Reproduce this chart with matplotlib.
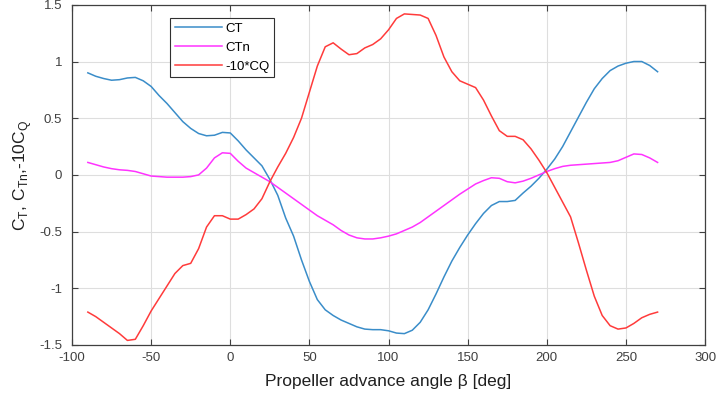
import matplotlib
matplotlib.use("Agg")
import matplotlib.pyplot as plt

# 推进角 β (deg)，每 5 度一个点
beta = list(range(-90, 271, 5))

ct = [0.90, 0.87, 0.85, 0.835, 0.84, 0.855, 0.86, 0.83, 0.78, 0.70,
      0.63, 0.55, 0.47, 0.41, 0.365, 0.345, 0.35, 0.375, 0.37, 0.30,
      0.22, 0.15, 0.08, -0.04, -0.18, -0.38, -0.54, -0.75, -0.94, -1.10,
      -1.19, -1.24, -1.28, -1.31, -1.34, -1.36, -1.365, -1.365, -1.375, -1.395,
      -1.40, -1.37, -1.30, -1.19, -1.05, -0.90, -0.76, -0.64, -0.53, -0.43,
      -0.34, -0.27, -0.235, -0.235, -0.225, -0.16, -0.10, -0.03, 0.05, 0.14,
      0.25, 0.38, 0.51, 0.64, 0.76, 0.85, 0.92, 0.96, 0.985, 1.0,
      1.0, 0.965, 0.91]

ctn = [0.11, 0.09, 0.07, 0.055, 0.045, 0.04, 0.03, 0.01, -0.01, -0.015,
       -0.02, -0.02, -0.02, -0.015, 0.0, 0.06, 0.15, 0.195, 0.19, 0.12,
       0.06, 0.02, -0.02, -0.06, -0.11, -0.16, -0.21, -0.26, -0.31, -0.36,
       -0.40, -0.44, -0.49, -0.53, -0.555, -0.565, -0.565, -0.555, -0.54, -0.52,
       -0.49, -0.46, -0.42, -0.37, -0.32, -0.27, -0.22, -0.17, -0.125, -0.08,
       -0.05, -0.025, -0.03, -0.06, -0.07, -0.055, -0.03, 0.0, 0.03, 0.055,
       0.075, 0.085, 0.09, 0.095, 0.10, 0.105, 0.11, 0.125, 0.155, 0.185,
       0.18, 0.15, 0.11]

cq10 = [-1.21, -1.25, -1.30, -1.35, -1.40, -1.46, -1.45, -1.33, -1.20, -1.09,
        -0.98, -0.87, -0.80, -0.78, -0.65, -0.46, -0.36, -0.36, -0.39, -0.39,
        -0.35, -0.30, -0.21, -0.06, 0.07, 0.19, 0.33, 0.50, 0.73, 0.96,
        1.13, 1.165, 1.11, 1.06, 1.07, 1.12, 1.15, 1.20, 1.28, 1.38,
        1.42, 1.415, 1.41, 1.38, 1.23, 1.04, 0.91, 0.83, 0.80, 0.77,
        0.66, 0.52, 0.39, 0.34, 0.34, 0.31, 0.23, 0.13, 0.02, -0.11,
        -0.24, -0.37, -0.60, -0.84, -1.07, -1.24, -1.33, -1.36, -1.35, -1.31,
        -1.26, -1.23, -1.21]

plt.rcParams["font.family"] = ["Liberation Sans", "DejaVu Sans"]
plt.rcParams["mathtext.fontset"] = "custom"
plt.rcParams["mathtext.rm"] = "Liberation Sans"
plt.rcParams["axes.unicode_minus"] = False

fig = plt.figure(figsize=(7.18, 4.03), dpi=100)
ax = fig.add_axes([0.1003, 0.144, 0.8817, 0.844])

ax.plot(beta, ct, color="#3a8dc9", lw=1.1, label="CT")
ax.plot(beta, ctn, color="#ff33ff", lw=1.1, label="CTn")
ax.plot(beta, cq10, color="#ff3b3b", lw=1.1, label="-10*CQ")

ax.set_xlim(-100, 300)
ax.set_ylim(-1.5, 1.5)
ax.set_xticks(range(-100, 301, 50))
ax.set_yticks([-1.5, -1, -0.5, 0, 0.5, 1, 1.5])
ax.set_yticklabels(["-1.5", "-1", "-0.5", "0", "0.5", "1", "1.5"])
ax.grid(True, color="#dedede", lw=0.8)
ax.set_axisbelow(True)

ax.tick_params(direction="in", top=True, right=True, length=4,
               colors="#404040", labelsize=9.5, width=0.8)
ax.tick_params(axis="y", pad=7)
ax.tick_params(axis="x", pad=5)
for s in ax.spines.values():
    s.set_color("#404040")
    s.set_linewidth(0.9)

ax.set_xlabel("Propeller advance angle β [deg]", fontsize=12.5,
              color="#202020", labelpad=7)
ax.set_ylabel(r"C$_\mathrm{T}$, C$_\mathrm{Tn}$,-10C$_\mathrm{Q}$",
              fontsize=12.5, color="#202020")

leg = ax.legend(loc="upper left", bbox_to_anchor=(0.155, 0.961),
                borderaxespad=0, fontsize=9.5, fancybox=False,
                framealpha=1, edgecolor="#303030", handlelength=3.6,
                handletextpad=0.25, borderpad=0.35)
leg.get_frame().set_linewidth(0.8)

fig.savefig("out.png", dpi=100)
